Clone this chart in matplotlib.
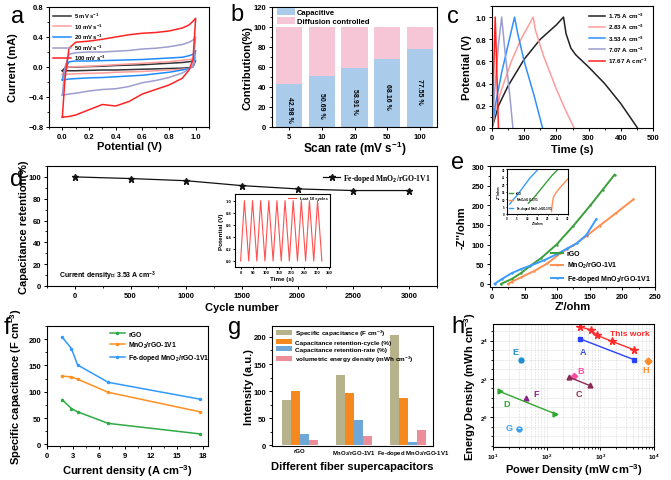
import numpy as np
import matplotlib
matplotlib.use('Agg')
import matplotlib.pyplot as plt
import matplotlib.transforms as mtrans
from matplotlib.ticker import MultipleLocator, FixedLocator, NullFormatter, LogLocator

plt.rcParams['font.family'] = ['Liberation Sans', 'DejaVu Sans']
plt.rcParams['font.weight'] = 'bold'
plt.rcParams['axes.labelweight'] = 'bold'
plt.rcParams['mathtext.fontset'] = 'custom'
plt.rcParams['mathtext.rm'] = 'Liberation Sans:bold'
plt.rcParams['mathtext.bf'] = 'Liberation Sans:bold'
plt.rcParams['mathtext.it'] = 'Liberation Sans:bold:italic'
plt.rcParams['mathtext.default'] = 'rm'
plt.rcParams['axes.linewidth'] = 0.8
for ax_ in ('xtick', 'ytick'):
    plt.rcParams[ax_ + '.direction'] = 'out'
    plt.rcParams[ax_ + '.major.size'] = 2.5
    plt.rcParams[ax_ + '.minor.size'] = 1.4
    plt.rcParams[ax_ + '.major.width'] = 0.7
    plt.rcParams[ax_ + '.minor.width'] = 0.6
    plt.rcParams[ax_ + '.labelsize'] = 5.5
    plt.rcParams[ax_ + '.major.pad'] = 1.5

# ---------------- data ----------------
# (a) CV curves
cv_potential = [0.0, 0.02, 0.05, 0.1, 0.2, 0.3, 0.4, 0.5, 0.6, 0.7, 0.8, 0.9, 0.95, 0.98, 1.0]
cv_labels = ['5 mV s$^{-1}$', '10 mV s$^{-1}$', '20 mV s$^{-1}$', '50 mV s$^{-1}$', '100 mV s$^{-1}$']
cv_upper_5 = [-0.05, -0.01, 0.0, 0.0, 0.005, 0.01, 0.02, 0.025, 0.03, 0.04, 0.05, 0.06, 0.07, 0.08, 0.09]
cv_lower_5 = [-0.05, -0.05, -0.05, -0.05, -0.045, -0.04, -0.04, -0.035, -0.03, -0.025, -0.02, -0.015, -0.01, 0.0, 0.09]
cv_upper_10 = [-0.10, -0.03, 0.0, 0.005, 0.01, 0.02, 0.03, 0.04, 0.05, 0.06, 0.07, 0.09, 0.10, 0.11, 0.13]
cv_lower_10 = [-0.10, -0.10, -0.095, -0.09, -0.085, -0.08, -0.07, -0.065, -0.06, -0.05, -0.04, -0.03, -0.02, 0.0, 0.13]
cv_upper_20 = [-0.17, -0.02, 0.07, 0.08, 0.08, 0.085, 0.09, 0.095, 0.10, 0.11, 0.12, 0.13, 0.15, 0.17, 0.22]
cv_lower_20 = [-0.17, -0.17, -0.16, -0.155, -0.145, -0.14, -0.13, -0.12, -0.11, -0.09, -0.07, -0.04, -0.02, 0.01, 0.22]
cv_upper_50 = [-0.375, 0.0, 0.17, 0.19, 0.20, 0.20, 0.21, 0.22, 0.24, 0.25, 0.27, 0.30, 0.33, 0.36, 0.40]
cv_lower_50 = [-0.375, -0.37, -0.36, -0.35, -0.32, -0.30, -0.29, -0.26, -0.21, -0.18, -0.14, -0.08, -0.03, 0.02, 0.40]
cv_upper_100 = [-0.67, -0.15, 0.25, 0.33, 0.345, 0.37, 0.40, 0.43, 0.45, 0.46, 0.48, 0.52, 0.56, 0.61, 0.65]
cv_lower_100 = [-0.67, -0.665, -0.66, -0.64, -0.57, -0.50, -0.52, -0.46, -0.36, -0.30, -0.24, -0.15, -0.04, 0.10, 0.65]

# (b) contribution
scan_rates = ['5', '10', '20', '50', '100']
capacitive = [42.98, 50.69, 58.91, 68.16, 77.55]

# (c) GCD
gcd_labels = ['1.75 A cm$^{-3}$', '2.83 A cm$^{-3}$', '3.53 A cm$^{-3}$', '7.07 A cm$^{-3}$', '17.67 A cm$^{-3}$']
gcd_t_175 = [0, 20, 50, 100, 150, 200, 222, 230, 245, 260, 300, 350, 400, 452]
gcd_v_175 = [0, 0.2, 0.38, 0.62, 0.80, 0.93, 1.0, 0.85, 0.72, 0.66, 0.55, 0.40, 0.22, 0.0]
gcd_t_283 = [0, 10, 30, 60, 90, 128, 135, 160, 200, 230, 255]
gcd_v_283 = [0, 0.15, 0.35, 0.60, 0.80, 1.0, 0.88, 0.65, 0.35, 0.15, 0.0]
gcd_t_353 = [0, 10, 30, 50, 70, 80, 100, 130, 157]
gcd_v_353 = [0, 0.2, 0.5, 0.75, 1.0, 0.85, 0.6, 0.3, 0.0]
gcd_t_707 = [0, 10, 20, 30, 40, 55, 65]
gcd_v_707 = [0, 0.4, 0.75, 1.0, 0.7, 0.3, 0.0]
gcd_t_1767 = [0, 5, 10, 15, 20]
gcd_v_1767 = [0, 0.5, 1.0, 0.5, 0.0]

# (d) cycling
cycles = [0, 500, 1000, 1500, 2000, 2500, 3000]
retention = [100, 98.5, 96.5, 92, 89, 87.5, 87.5]
last_t = [0, 15, 32, 47, 64, 79, 96, 111, 128, 143, 160, 175, 192, 207, 224, 239, 256, 271, 288, 303, 320]
last_v = [0, 1, 0, 1, 0, 1, 0, 1, 0, 1, 0, 1, 0, 1, 0, 1, 0, 1, 0, 1, 0]

# (e) Nyquist
eis_labels = ['rGO', 'MnO$_2$/rGO-1V1', 'Fe-doped MnO$_2$/rGO-1V1']
eis_re_rgo = [14, 30, 45, 58, 75, 99, 125, 151, 170, 188]
eis_im_rgo = [0, 12, 28, 45, 65, 100, 148, 200, 240, 278]
eis_re_mno = [25, 30, 45, 65, 85, 105, 125, 145, 165, 190, 217]
eis_im_mno = [0, 5, 17, 33, 52, 78, 98, 122, 148, 180, 215]
eis_re_fe = [4, 15, 30, 45, 60, 80, 100, 115, 130, 145, 160]
eis_im_fe = [0, 12, 27, 38, 47, 60, 76, 90, 103, 125, 165]
ins_re_rgo = [10.5, 13, 16, 19, 22, 25.2]
ins_im_rgo = [7.2, 10.5, 15.5, 20.5, 25.5, 30]
ins_re_mno = [21.9, 22.2, 22.8, 24, 26, 28, 30]
ins_im_mno = [1.5, 6, 11.1, 14, 17.5, 20.5, 23.4]
ins_re_fe = [1.3, 3, 5, 8, 11, 15]
ins_im_fe = [6.6, 9.5, 12.5, 18, 23.5, 29.4]

# (f) rate capability
current_density = [1.75, 2.83, 3.53, 7.07, 17.67]
cap_rgo = [85, 68, 62, 40, 20]
cap_mno = [130, 128, 124, 99, 62]
cap_fe = [204, 182, 151, 118, 86]

# (g) comparison
devices = ['rGO', 'MnO$_2$/rGO-1V1', 'Fe-doped MnO$_2$/rGO-1V1']
g_labels = ['Specific capacitance (F cm$^{-3}$)', 'Capacitance retention-cycle (%)',
            'Capacitance retention-rate (%)', 'volumetric energy density (mWh cm$^{-3}$)']
g_spec_cap = [84, 129, 203]
g_ret_cycle = [100, 96, 87]
g_ret_rate = [22, 47, 7]
g_energy = [10.5, 17, 27.7]

# (h) Ragone
this_p = [410, 680, 850, 1680, 4200]
this_e = [26.5, 23.5, 19.5, 15.5, 11.5]
A_p = [424, 4180]; A_e = [17.0, 8.05]
H_p = [7730]; H_e = [7.77]
E_p = [33]; E_e = [7.95]
B_p = [320]; B_e = [4.5]
C_p = [261, 632]; C_e = [4.25, 3.14]
F_p = [42]; F_e = [1.99]
D_p = [13.3, 141]; D_e = [2.53, 1.13]
G_p = [30]; G_e = [0.656]

# ---------------- figure ----------------
W, H = 671, 481
fig = plt.figure(figsize=(W / 100, H / 100), dpi=100)

def add_ax(x0, x1, y0, y1):
    ax = fig.add_axes([x0 / W, 1 - y1 / H, (x1 - x0) / W, (y1 - y0) / H])
    ax._box = (x0, x1, y0, y1)
    return ax

LAB = 8
LET = 17

def labels(ax, xl, yl, xc_y, yc_x, fs=LAB):
    x0, x1, y0, y1 = ax._box
    ax.set_xlabel(xl, fontsize=fs)
    ax.set_ylabel(yl, fontsize=fs)
    ax.xaxis.set_label_coords(0.5, (y1 - (xc_y - 5)) / (y1 - y0))
    ax.yaxis.set_label_coords((yc_x + 4.5 - x0) / (x1 - x0), 0.5)

def letter(x, y, s):
    fig.text(x / W, 1 - y / H, s, fontsize=LET, fontweight='normal', ha='center', va='center')

# (a)
ax = add_ax(49, 209, 8, 128)
cv_colors = ['#333333', '#ff9c9c', '#1f8bff', '#9d9dd0', '#ff2424']
cv_up = [cv_upper_5, cv_upper_10, cv_upper_20, cv_upper_50, cv_upper_100]
cv_lo = [cv_lower_5, cv_lower_10, cv_lower_20, cv_lower_50, cv_lower_100]
for up, lo, c, lab in zip(cv_up, cv_lo, cv_colors, cv_labels):
    ax.plot(cv_potential + cv_potential[::-1], up + lo[::-1], color=c, lw=1.1, label=lab)
ax.set_xlim(-0.1, 1.1); ax.set_ylim(-0.8, 0.8)
ax.xaxis.set_major_locator(MultipleLocator(0.2)); ax.xaxis.set_minor_locator(MultipleLocator(0.1))
ax.yaxis.set_major_locator(MultipleLocator(0.4)); ax.yaxis.set_minor_locator(MultipleLocator(0.2))
labels(ax, 'Potential (V)', 'Current (mA)', 147, 14)
ax.legend(loc='upper left', bbox_to_anchor=(0.0, 1.0), frameon=False, fontsize=4.2,
          handlelength=3.2, labelspacing=0.22, borderaxespad=0.25, handletextpad=0.5)
letter(18, 17, 'a')

# (b)
ax = add_ax(272, 437, 8, 128)
xb = np.arange(len(scan_rates))
diffusion = [100 - v for v in capacitive]
ax.bar(xb, capacitive, width=0.8, color='#aacbea', label='Capacitive')
ax.bar(xb, diffusion, bottom=capacitive, width=0.8, color='#f6c6d6', label='Diffusion controlled')
for xi, v in zip(xb, capacitive):
    ax.text(xi, v / 2 - 3, '%.2f %%' % v, rotation=-90, ha='center', va='center', fontsize=5)
ax.set_xticks(xb); ax.set_xticklabels(scan_rates)
ax.set_xlim(-0.53, 4.53); ax.set_ylim(0, 120)
ax.yaxis.set_major_locator(MultipleLocator(20)); ax.yaxis.set_minor_locator(MultipleLocator(10))
labels(ax, 'Scan rate (mV s$^{-1}$)', 'Contribution(%)', 145, 248)
ax.xaxis.label.set_fontsize(LAB + 0.5)
ax.legend(loc='upper left', bbox_to_anchor=(0.0, 1.03), frameon=False, fontsize=5.5,
          handlelength=2.4, handleheight=1.0, labelspacing=0.15, borderaxespad=0.2, handletextpad=0.3)
letter(237, 15, 'b')

# (c)
ax = add_ax(492, 653, 7, 129)
gcd_colors = ['#222222', '#ff9c9c', '#2f8fff', '#9d9dd0', '#ff2020']
gcd_t = [gcd_t_175, gcd_t_283, gcd_t_353, gcd_t_707, gcd_t_1767]
gcd_v = [gcd_v_175, gcd_v_283, gcd_v_353, gcd_v_707, gcd_v_1767]
for t, v, c, lab in zip(gcd_t, gcd_v, gcd_colors, gcd_labels):
    ax.plot(t, v, color=c, lw=1.1, label=lab)
ax.set_xlim(0, 500); ax.set_ylim(0, 1.1)
ax.xaxis.set_major_locator(MultipleLocator(100)); ax.xaxis.set_minor_locator(MultipleLocator(50))
ax.yaxis.set_major_locator(MultipleLocator(0.2)); ax.yaxis.set_minor_locator(MultipleLocator(0.1))
labels(ax, 'Time (s)', 'Potential (V)', 150, 468)
ax.legend(loc='upper right', frameon=False, fontsize=4.5, handlelength=2.6,
          labelspacing=0.3, borderaxespad=0.4, handletextpad=0.5)
letter(453, 17, 'c')

# (d)
ax = add_ax(47, 437, 167, 287)
ax.plot(cycles, retention, color='#111111', lw=0.9, marker='*', ms=5,
        label='Fe-doped MnO$_2$/rGO-1V1')
ax.set_xlim(-250, 3250); ax.set_ylim(0, 110)
ax.xaxis.set_major_locator(MultipleLocator(500)); ax.xaxis.set_minor_locator(MultipleLocator(250))
ax.yaxis.set_major_locator(MultipleLocator(20)); ax.yaxis.set_minor_locator(MultipleLocator(10))
labels(ax, 'Cycle number', 'Capacitance retention(%)', 308, 25)
ax.legend(loc='upper right', frameon=False, prop={'family': 'Liberation Serif', 'size': 5.5, 'weight': 'bold'},
          handlelength=2.2, borderaxespad=0.4, handletextpad=0.4)
ax.text(0.03, 0.09, 'Current density\uff1a 3.53 A cm$^{-3}$', transform=ax.transAxes, fontsize=5,
        family=['Liberation Sans', 'Noto Sans CJK SC'], ha='left', va='center')
letter(17, 180, 'd')

axi = add_ax(235, 330, 195, 268)
axi.plot(last_t, last_v, color='#ff5050', lw=0.8, label='Last 10 cycles')
axi.set_xlim(-22, 352); axi.set_ylim(-0.1, 1.11)
axi.xaxis.set_major_locator(MultipleLocator(50)); axi.yaxis.set_major_locator(MultipleLocator(0.2))
axi.tick_params(labelsize=3, length=1.5, pad=1)
axi.set_xlabel('Time (s)', fontsize=4.5, labelpad=1)
axi.set_ylabel('Potential (V)', fontsize=4.5, labelpad=1)
axi.legend(loc='upper right', frameon=False, fontsize=3, handlelength=2, borderaxespad=0.2)

# (e)
ax = add_ax(490, 655, 167, 288)
eis_colors = ['#3a9e3a', '#ff8f50', '#3a9cff']
ax.plot(eis_re_rgo, eis_im_rgo, color=eis_colors[0], lw=1.4, marker='.', ms=1.5, label=eis_labels[0])
ax.plot(eis_re_mno, eis_im_mno, color=eis_colors[1], lw=1.4, marker='.', ms=1.5, label=eis_labels[1])
ax.plot(eis_re_fe, eis_im_fe, color=eis_colors[2], lw=1.4, marker='.', ms=1.5, label=eis_labels[2])
ax.set_xlim(-3, 250); ax.set_ylim(-8, 300)
ax.xaxis.set_major_locator(MultipleLocator(50)); ax.xaxis.set_minor_locator(MultipleLocator(25))
ax.yaxis.set_major_locator(MultipleLocator(50)); ax.yaxis.set_minor_locator(MultipleLocator(25))
labels(ax, "Z'/ohm", "-Z''/ohm", 307, 462)
ax.legend(loc='lower right', bbox_to_anchor=(1.0, -0.01), frameon=False, fontsize=5.0, handlelength=1.8,
          labelspacing=0.4, borderaxespad=0.2, handletextpad=0.5)
letter(458, 163, 'e')

axi = add_ax(507, 568, 170, 215)
axi.plot(ins_re_rgo, ins_im_rgo, color=eis_colors[0], lw=1.0, label=eis_labels[0])
axi.plot(ins_re_mno, ins_im_mno, color=eis_colors[1], lw=1.0, label=eis_labels[1])
axi.plot(ins_re_fe, ins_im_fe, color=eis_colors[2], lw=1.0, label=eis_labels[2])
axi.set_xlim(0, 30); axi.set_ylim(0, 30)
axi.xaxis.set_major_locator(MultipleLocator(5)); axi.yaxis.set_major_locator(MultipleLocator(5))
axi.tick_params(labelsize=2.2, length=1, pad=0.5)
axi.set_xlabel("Z'/ohm", fontsize=2.5, labelpad=0.5)
axi.set_ylabel("-Z''/ohm", fontsize=2.5, labelpad=0.5)
axi.legend(loc='lower left', frameon=False, fontsize=2.2, handlelength=1.5, labelspacing=0.3, borderaxespad=0.2)

# (f)
ax = add_ax(47, 208, 327, 447)
f_colors = ['#2eaa44', '#ff9020', '#3399ff']
ax.plot(current_density, cap_rgo, color=f_colors[0], lw=1.1, marker='o', ms=1.5, label='rGO')
ax.plot(current_density, cap_mno, color=f_colors[1], lw=1.1, marker='o', ms=1.5, label='MnO$_2$/rGO-1V1')
ax.plot(current_density, cap_fe, color=f_colors[2], lw=1.1, marker='o', ms=1.5, label='Fe-doped MnO$_2$/rGO-1V1')
ax.set_xlim(0, 18.6); ax.set_ylim(-3, 225)
ax.xaxis.set_major_locator(MultipleLocator(3)); ax.xaxis.set_minor_locator(MultipleLocator(1.5))
ax.yaxis.set_major_locator(MultipleLocator(50)); ax.yaxis.set_minor_locator(MultipleLocator(25))
labels(ax, 'Current density (A cm$^{-3}$)', 'Specific capacitance (F cm$^{-3}$)', 468, 20)
ax.legend(loc='upper left', bbox_to_anchor=(0.36, 1.0), frameon=False, fontsize=4.9,
          handlelength=2.2, labelspacing=0.3, borderaxespad=0.3, handletextpad=0.5)
letter(7, 328, 'f')

# (g)
ax = add_ax(272, 433, 327, 447)
g_colors = ['#b6b38c', '#f5891f', '#6fa7d8', '#ec8e9a']
xg = np.arange(len(devices))
wb = 0.165
for k, (vals, c, lab) in enumerate(zip([g_spec_cap, g_ret_cycle, g_ret_rate, g_energy], g_colors, g_labels)):
    ax.bar(xg + (k - 1.5) * wb, vals, width=wb, color=c, label=lab, edgecolor='none')
ax.set_xticks(xg); ax.set_xticklabels(devices, fontsize=4.3)
ax.tick_params(axis='x', length=0)
tl = ax.get_xticklabels()
tl[2].set_transform(tl[2].get_transform() + mtrans.ScaledTranslation(5 / 100, 0, fig.dpi_scale_trans))
ax.set_xlim(-0.51, 2.46); ax.set_ylim(-1, 220)
ax.yaxis.set_major_locator(MultipleLocator(50)); ax.yaxis.set_minor_locator(MultipleLocator(25))
labels(ax, 'Different fiber supercapacitors', 'Intensity (a.u.)', 467, 250)
ax.legend(loc='upper left', bbox_to_anchor=(0.0, 1.02), frameon=False, fontsize=4.6,
          handlelength=2.6, handleheight=0.9, labelspacing=0.2, borderaxespad=0.2, handletextpad=0.4)
letter(235, 328, 'g')

# (h)
ax = add_ax(493, 654, 325, 448)
ax.set_xscale('log')
ax.set_yscale('log', base=2)
ax.plot(this_p, this_e, color='#ff2a2a', lw=1.0, marker='*', ms=5.5)
ax.plot(A_p, A_e, color='#2a40ff', lw=1.0, marker='s', ms=3.5)
ax.plot(H_p, H_e, color='#ff8c2a', lw=0, marker='D', ms=3.5)
ax.plot(E_p, E_e, color='#1f8fd0', lw=0, marker='o', ms=3.5)
ax.plot(B_p, B_e, color='#ff4fa6', lw=0, marker='D', ms=3.2)
ax.plot(C_p, C_e, color='#8b2a55', lw=1.0, marker='^', ms=3.5)
ax.plot(F_p, F_e, color='#8e1f8e', lw=0, marker='^', ms=3.5)
ax.plot(D_p, D_e, color='#2fa62f', lw=1.0, marker='>', ms=3.5)
ax.plot(G_p, G_e, color='#3aa0f0', lw=0, marker='o', ms=3.5, fillstyle='bottom', markerfacecoloralt='white')
ax.text(3500, 20.4, 'This work', color='#ff2a2a', fontsize=6, ha='center', va='center')
ax.text(475, 10.9, 'A', color='#3355dd', fontsize=6.5, ha='center', va='center')
ax.text(7000, 5.7, 'H', color='#ff8c2a', fontsize=6.5, ha='center', va='center')
ax.text(26.4, 10.8, 'E', color='#1f8fd0', fontsize=6.5, ha='center', va='center')
ax.text(424, 5.4, 'B', color='#ff4fa6', fontsize=6.5, ha='center', va='center')
ax.text(400, 2.38, 'C', color='#8b2a55', fontsize=6.5, ha='center', va='center')
ax.text(64, 2.32, 'F', color='#8e1f8e', fontsize=6.5, ha='center', va='center')
ax.text(18.2, 1.66, 'D', color='#2fa62f', fontsize=6.5, ha='center', va='center')
ax.text(19.9, 0.672, 'G', color='#3aa0f0', fontsize=6.5, ha='center', va='center')
ax.set_xlim(10, 1e4)
ax.set_ylim(2 ** -1.57, 2 ** 4.87)
ax.yaxis.set_major_locator(FixedLocator([1, 4, 16]))
ax.yaxis.set_major_formatter(matplotlib.ticker.FixedFormatter(['2$^{0}$', '2$^{2}$', '2$^{4}$']))
ax.yaxis.set_minor_locator(FixedLocator([2 ** (k / 2) for k in range(-3, 10)]))
ax.yaxis.set_minor_formatter(NullFormatter())
ax.xaxis.set_minor_locator(LogLocator(base=10, subs=np.arange(2, 10)))
ax.tick_params(axis='both', labelsize=4.5, pad=1)
ax.grid(True, which='both', color='#d8d8d8', lw=0.4, ls='--')
ax.set_axisbelow(True)
labels(ax, 'Power Density (mW cm$^{-3}$)', 'Energy Density (mWh cm$^{-3}$)', 467, 473)
letter(458, 327, 'h')

fig.savefig('out.png', dpi=100)
